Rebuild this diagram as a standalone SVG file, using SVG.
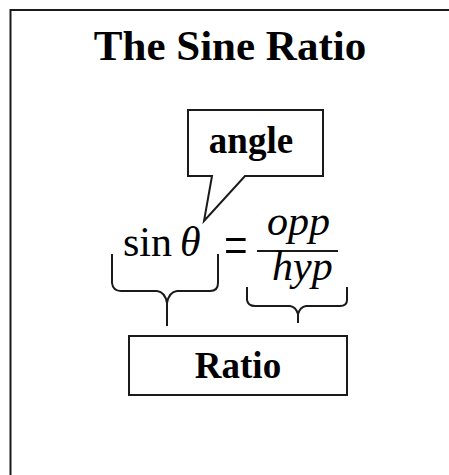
<svg xmlns="http://www.w3.org/2000/svg" width="449" height="475" viewBox="0 0 449 475">
<style>
.ln{fill:none;stroke:#1a1a1a;stroke-width:2}
.box{fill:#fff;stroke:#1a1a1a;stroke-width:2}
.bold{font-family:"Liberation Serif","Times New Roman",serif;font-weight:bold;fill:#000}
.math{font-family:"Liberation Serif","Times New Roman",serif;font-size:42px;fill:#000}
.it{font-style:italic}
</style>
<rect x="0" y="0" width="449" height="475" fill="#fff"/>
<rect id="frame" x="10.5" y="10" width="460" height="480" class="ln"/>
<g id="title"><text x="230" y="60" class="bold" font-size="43" text-anchor="middle">The Sine Ratio</text></g>
<g id="angle">
<path class="box" d="M188,110 H323 V176 H245 L204,221 L212,176 H188 Z"/>
<text x="251" y="153" class="bold" font-size="37" text-anchor="middle">angle</text>
</g>
<g id="equation">
<text x="123" y="256" class="math">sin</text>
<text x="180" y="256" class="math it">θ</text>
<text x="224" y="260" class="math" font-size="44" transform="translate(0,248.5) scale(1,1.4) translate(0,-248.5)">=</text>
<text x="267" y="235" class="math it">opp</text>
<line x1="257" y1="251" x2="338" y2="251" class="ln"/>
<text x="272" y="280" class="math it">hyp</text>
</g>
<g id="ratio">
<rect x="129" y="336" width="218" height="59" class="box"/>
<text x="238" y="378" class="bold" font-size="37" text-anchor="middle">Ratio</text>
</g>
<g id="connectors">
<path class="ln" d="M112,254 L112,283 Q113,291 121,291 L157,291 Q165,292 167,303 Q169,292 177,291 L210,291 Q218,291 218,283 L218,254"/>
<path class="ln" d="M167,300 L167,326"/>
<path class="ln" d="M247,287 L247,300 Q248,306 255,306 L290,306 Q296,307 298,314 Q300,307 306,306 L340,306 Q347,306 347,300 L347,287"/>
<path class="ln" d="M298,312 L298,323"/>
</g>
</svg>
